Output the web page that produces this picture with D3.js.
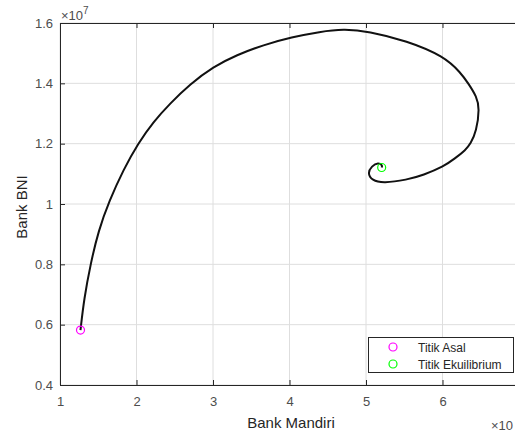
<!DOCTYPE html>
<html>
<head>
<meta charset="utf-8">
<script src="https://cdn.jsdelivr.net/npm/d3@7"></script>
<style>
body { margin: 0; background: #fff; }
text { font-family: "Liberation Sans", Arial, sans-serif; }
</style>
</head>
<body>
<div class="phase-plot"></div>
<script>
// trajectory, values in units of 1e7
const mandiri = [1.268, 1.314, 1.401, 1.503, 1.644, 1.827, 2.024, 2.220, 2.438, 2.699, 3.004, 3.310, 3.657, 4.029, 4.399, 4.703, 5.030, 5.532, 6.020, 6.242, 6.337, 6.447, 6.484, 6.444, 6.366, 6.301, 6.163, 6.013, 5.749, 5.532, 5.226, 5.078, 5.020, 5.074, 5.161, 5.216, 5.205]
const bni     = [0.582, 0.685, 0.803, 0.912, 1.010, 1.113, 1.202, 1.272, 1.333, 1.397, 1.455, 1.494, 1.527, 1.553, 1.571, 1.580, 1.573, 1.541, 1.490, 1.434, 1.400, 1.356, 1.317, 1.242, 1.199, 1.179, 1.151, 1.124, 1.096, 1.080, 1.069, 1.078, 1.102, 1.126, 1.138, 1.128, 1.121]
const titikAsal = [1.268, 0.582]
const titikEkuilibrium = [5.205, 1.121]
const xTicks = [1, 2, 3, 4, 5, 6]
const yTicks = [0.4, 0.6, 0.8, 1, 1.2, 1.4, 1.6]
const legendLabels = ['Titik Asal', 'Titik Ekuilibrium']
const legendColors = ['#ff00ff', '#00ff00']

const width = 515
const height = 433
const mLeft = 60, mTop = 23, mRight = 519, mBottom = 385
const axisColor = '#262626'

const x = d3.scaleLinear().domain([1, 7]).range([mLeft, mRight])
const y = d3.scaleLinear().domain([0.4, 1.6]).range([mBottom, mTop])

const svg = d3.select('.phase-plot').append('svg').attr('width', width).attr('height', height)

// grid
svg.selectAll('line.gx')
    .data(xTicks)
    .enter()
    .append('line')
    .attr('x1', d=>x(d)).attr('x2', d=>x(d))
    .attr('y1', mTop).attr('y2', mBottom)
    .attr('stroke', '#dedede')
svg.selectAll('line.gy')
    .data(yTicks)
    .enter()
    .append('line')
    .attr('x1', mLeft).attr('x2', mRight)
    .attr('y1', d=>y(d)).attr('y2', d=>y(d))
    .attr('stroke', '#dedede')

// axes (MATLAB style, ticks inward)
const xAxis = d3.axisBottom(x).tickValues(xTicks).tickSize(-5).tickPadding(12).tickFormat(d3.format('d'))
const xTop = d3.axisTop(x).tickValues(xTicks).tickSize(-5).tickFormat('')
const yAxis = d3.axisLeft(y).tickValues(yTicks).tickSize(-5).tickPadding(7).tickFormat(d=>d===1?'1':d3.format('.1f')(d))

const gx = svg.append('g').attr('transform', 'translate(0,'+mBottom+')').call(xAxis)
const gt = svg.append('g').attr('transform', 'translate(0,'+mTop+')').call(xTop)
const gy = svg.append('g').attr('transform', 'translate('+mLeft+',0)').call(yAxis)
;[gx, gt, gy].forEach(g=>{
    g.select('.domain').attr('stroke', axisColor).attr('stroke-width', 1)
    g.selectAll('.tick line').attr('stroke', axisColor)
    g.selectAll('.tick text').attr('fill', '#4d4d4d').attr('font-size', 13).attr('font-family', '"Liberation Sans", Arial, sans-serif')
})

// trajectory (b-spline to smooth out reading noise)
const pts = mandiri.map((m,i)=>[m, bni[i]])
const line = d3.line().x(d=>x(d[0])).y(d=>y(d[1])).curve(d3.curveBasis)
svg.append('path')
    .attr('d', line(pts))
    .attr('fill', 'none')
    .attr('stroke', '#111')
    .attr('stroke-width', 2)

// markers
svg.selectAll('circle.pt')
    .data([titikAsal, titikEkuilibrium])
    .enter()
    .append('circle')
    .attr('cx', d=>x(d[0]))
    .attr('cy', d=>y(d[1]))
    .attr('r', 4)
    .attr('fill', 'none')
    .attr('stroke', (d,i)=>legendColors[i])
    .attr('stroke-width', 1.2)

// exponent labels
const ex = svg.append('text').attr('x', 61).attr('y', 20).attr('font-size', 13).attr('fill', '#4d4d4d')
ex.append('tspan').text('\u00d710')
ex.append('tspan').attr('dy', -6).attr('font-size', 10).text('7')
// bottom one is cropped at the window edge in the original, only "x10" shows
svg.append('text').attr('x', 491).attr('y', 430).attr('font-size', 13).attr('fill', '#4d4d4d').text('\u00d710')

// axis titles
svg.append('text')
    .attr('x', 291).attr('y', 428)
    .attr('text-anchor', 'middle')
    .attr('font-size', 15)
    .attr('fill', '#262626')
    .text('Bank Mandiri')
svg.append('text')
    .attr('transform', 'translate(27,207) rotate(-90)')
    .attr('text-anchor', 'middle')
    .attr('font-size', 15)
    .attr('fill', '#262626')
    .text('Bank BNI')

// legend
const lg = svg.append('g')
lg.append('rect')
    .attr('x', 368.5).attr('y', 337.5)
    .attr('width', 145).attr('height', 35)
    .attr('fill', '#fff')
    .attr('stroke', axisColor)
lg.selectAll('circle')
    .data(legendLabels)
    .enter()
    .append('circle')
    .attr('cx', 393)
    .attr('cy', (d,i)=>347+i*17)
    .attr('r', 4)
    .attr('fill', 'none')
    .attr('stroke', (d,i)=>legendColors[i])
    .attr('stroke-width', 1.2)
lg.selectAll('text')
    .data(legendLabels)
    .enter()
    .append('text')
    .attr('x', 418)
    .attr('y', (d,i)=>352+i*17)
    .attr('font-size', 12)
    .attr('fill', '#262626')
    .text(d=>d)
</script>
</body>
</html>
